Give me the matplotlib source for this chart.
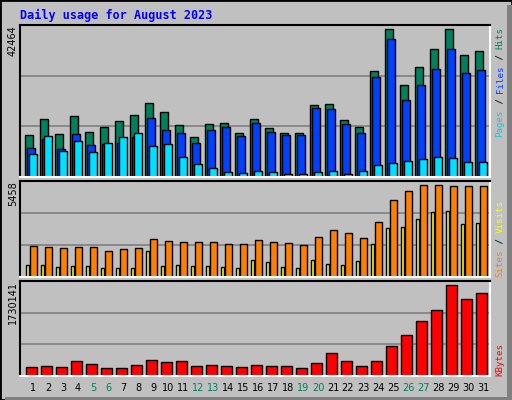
import matplotlib
matplotlib.use("Agg")
import matplotlib.pyplot as plt
from matplotlib.patches import Rectangle

days = list(range(1, 32))
weekend = [5, 6, 12, 13, 19, 20, 26, 27]
hits = [11913,16524,12201,17389,12777,14218,15948,17677,21135,18541,14795,11336,15083,15371,12489,16524,
        13930,12489,12489,20559,20847,16236,14218,30358,42464,26323,31511,36699,42464,34969,36122]
files = [8454,10760,8166,12201,9319,9415,9895,11336,16812,13354,12489,9895,13354,14218,11624,15371,
         12777,11913,11913,19694,19406,15083,12489,28628,39581,22000,26323,30934,36699,29782,30646]
pages = [6725,11624,7590,10472,7301,9895,11336,12489,9031,9607,5860,3843,2690,1537,1249,1825,
         1537,961,961,1537,1825,961,1825,3555,4131,4707,5284,5860,5572,4419,4419]
sites = [1852,1793,1734,1793,1793,1556,1675,1734,2266,2147,2088,2088,2088,1970,1970,2206,
         2088,2029,1911,2384,2797,2620,2325,3270,4570,5102,5458,5458,5398,5398,5398]
visits = [729,729,611,670,670,552,552,552,1556,670,729,670,670,611,552,1024,
          906,611,552,1024,788,729,965,1970,2916,2975,3448,3861,3920,3152,3211]
kbytes = [163576,182451,163576,276822,220199,144702,144702,201325,295696,257947,276822,182451,201325,182451,163576,201325,
          182451,182451,144702,239073,427816,276822,182451,276822,559935,767551,1031790,1258285,1730141,1465902,1579146]

W, H = 512, 400
fig = plt.figure(figsize=(W/100, H/100), dpi=100, facecolor="#C0C0C0")
mono = "DejaVu Sans Mono"

fig.patches.append(Rectangle((0, 0), 1, 1, transform=fig.transFigure, fill=False, ec="black", lw=2))
fig.patches.append(Rectangle((507/W, 0), 5/W, 1 - 5/H, transform=fig.transFigure, fc="#808080", ec="none"))
fig.patches.append(Rectangle((5/W, 0), 1 - 5/W, 3/H, transform=fig.transFigure, fc="#808080", ec="none"))

fig.text(20/W, 1 - 15/H, "Daily usage for August 2023", color="#0000FF", fontsize=8.5,
         fontweight="bold", family=mono, va="center", ha="left")

def mkax(top, bottom):
    ax = fig.add_axes([20/W, 1 - bottom/H, 470/W, (bottom - top)/H])
    ax.set_facecolor("#C0C0C0")
    ax.set_xlim(0, 470)
    for s in ax.spines.values():
        s.set_color("black"); s.set_linewidth(1.5)
    ax.spines["bottom"].set_color("white")
    ax.spines["right"].set_color("white")
    ax.set_yticks([]); ax.set_xticks([])
    return ax

def grid(ax, top):
    for f in (1/3, 2/3):
        ax.axhline(top*f, color="#808080", lw=1.2, zorder=0)

def xs(off):
    return [5 + 15*(d - 1) + off for d in days]

bk = dict(edgecolor="black", linewidth=1, align="edge")

ax1 = mkax(25, 177)
top1 = max(hits) * 152 / 148
ax1.set_ylim(0, top1); grid(ax1, top1)
ax1.bar(xs(0), hits, width=7.5, color="#00805C", **bk)
ax1.bar(xs(2), files, width=7.5, color="#0040FF", **bk)
ax1.bar(xs(4), pages, width=7.5, color="#00E0FF", **bk)
fig.text(13/W, 1 - 25/H, str(max(hits)), rotation=90, fontsize=7, va="top", ha="center")

ax2 = mkax(181, 277)
top2 = max(sites) * 96 / 92.3
ax2.set_ylim(0, top2); grid(ax2, top2)
ax2.bar(xs(0.7), visits, width=3.7, color="#FFFF00", **bk)
ax2.bar(xs(4.7), sites, width=7, color="#FF8000", **bk)
fig.text(13/W, 1 - 181/H, str(max(sites)), rotation=90, fontsize=7, va="top", ha="center")

ax3 = mkax(281, 376)
top3 = max(kbytes) * 95.3 / 91.7
ax3.set_ylim(0, top3); grid(ax3, top3)
ax3.bar(xs(1.3), kbytes, width=10.4, color="#FF0000", **bk)
fig.text(13/W, 1 - 281/H, str(max(kbytes)), rotation=90, fontsize=7, va="top", ha="center")

for d, x in zip(days, xs(8)):
    fig.text((20 + x)/W, 1 - 388/H, str(d), fontsize=7, ha="center", va="center",
             color="#00805C" if d in weekend else "black")

FS = 6.6
STEP = 0.602 * FS * 100 / 72

def rlabel(parts, y_bottom):
    y = y_bottom
    for txt, col in parts:
        fig.text(500/W, 1 - y/H, txt, rotation=90, fontsize=FS, family=mono,
                 color=col, ha="center", va="bottom")
        y -= len(txt) * STEP

rlabel([("Pages", "#00D0E0"), (" / ", "black"), ("Files", "#0040FF"), (" / ", "black"), ("Hits", "#00805C")], 137)
rlabel([("Sites", "#FF8000"), (" / ", "black"), ("Visits", "#FFFF00")], 277)
rlabel([("KBytes", "#FF0000")], 376)

fig.savefig("out.png", dpi=100, facecolor=fig.get_facecolor())
